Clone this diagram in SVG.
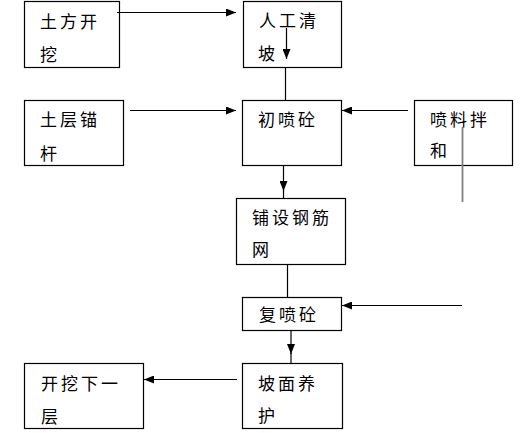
<svg xmlns="http://www.w3.org/2000/svg" width="525" height="433" viewBox="0 0 525 433">
<defs>
<style>
.box{fill:#fff;stroke:#000;stroke-width:1.2}
.t{font-family:"Noto Sans CJK SC","Noto Sans CJK JP",sans-serif;font-size:17px;letter-spacing:3px;fill:#000}
.c{stroke:#000;stroke-width:1.2;fill:none}
.g{stroke:#808080;stroke-width:1.8;fill:none}
</style>
<marker id="ah" viewBox="0 0 10 8" refX="10" refY="4" markerWidth="10" markerHeight="8" markerUnits="userSpaceOnUse" orient="auto">
<path d="M0,0 L10,4 L0,8 z" fill="#000"/>
</marker>
</defs>
<rect width="525" height="433" fill="#fff"/>
<g id="n1"><rect class="box" x="24.5" y="1.5" width="95" height="66"/><text class="t" x="40" y="28">土方开</text><text class="t" x="40" y="61">挖</text></g>
<g id="n2"><rect class="box" x="243.5" y="1.5" width="98" height="66"/><text class="t" x="259" y="27">人工清</text><text class="t" x="258" y="60">坡</text></g>
<g id="n3"><rect class="box" x="24.5" y="100.5" width="99" height="65"/><text class="t" x="40" y="126">土层锚</text><text class="t" x="40" y="160">杆</text></g>
<g id="n4"><rect class="box" x="242.5" y="100.5" width="99" height="65"/><text class="t" x="258" y="126">初喷砼</text></g>
<g id="n5"><rect class="box" x="414.5" y="100.5" width="98" height="65"/><text class="t" x="430" y="126">喷料拌</text><text class="t" x="430" y="157">和</text></g>
<g id="n6"><rect class="box" x="236.5" y="198.5" width="109" height="66"/><text class="t" x="252" y="224">铺设钢筋</text><text class="t" x="252" y="256">网</text></g>
<g id="n7"><rect class="box" x="242.5" y="297.5" width="99" height="33"/><text class="t" x="259" y="321">复喷砼</text></g>
<g id="n8"><rect class="box" x="242.5" y="363.5" width="100" height="65"/><text class="t" x="258" y="390">坡面养</text><text class="t" x="258" y="422">护</text></g>
<g id="n9"><rect class="box" x="24.5" y="363.5" width="119" height="65"/><text class="t" x="41" y="390">开挖下一</text><text class="t" x="41" y="423">层</text></g>
<g id="connectors">
<line class="c" x1="117" y1="12.5" x2="236" y2="12.5" marker-end="url(#ah)"/>
<line class="c" x1="286.5" y1="28" x2="286.5" y2="59" marker-end="url(#ah)"/>
<line class="c" x1="285.5" y1="67" x2="285.5" y2="100"/>
<line class="c" x1="130" y1="110.5" x2="236" y2="110.5" marker-end="url(#ah)"/>
<line class="c" x1="408" y1="110.5" x2="342" y2="110.5" marker-end="url(#ah)"/>
<line class="g" x1="462.5" y1="127" x2="462.5" y2="202"/>
<line class="c" x1="283.5" y1="165" x2="283.5" y2="191" marker-end="url(#ah)"/>
<line class="c" x1="283.5" y1="190" x2="283.5" y2="198"/>
<line class="c" x1="287.5" y1="264" x2="287.5" y2="297"/>
<line class="c" x1="462" y1="305.5" x2="342" y2="305.5" marker-end="url(#ah)"/>
<line class="c" x1="291" y1="330" x2="291" y2="354" marker-end="url(#ah)"/>
<line class="c" x1="291" y1="353" x2="291" y2="363"/>
<line class="c" x1="237" y1="379.5" x2="144" y2="379.5" marker-end="url(#ah)"/>
</g>
</svg>
